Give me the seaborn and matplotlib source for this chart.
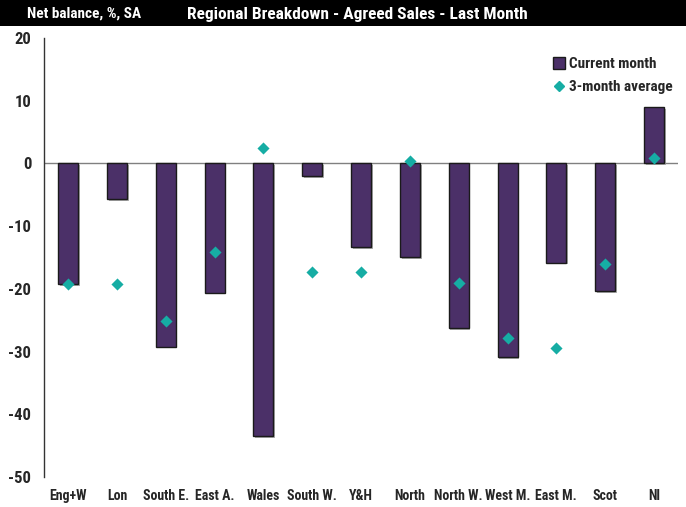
import matplotlib
matplotlib.use("Agg")
import matplotlib.pyplot as plt
import matplotlib.patheffects as pe
from matplotlib.lines import Line2D
from matplotlib.patches import Rectangle
import seaborn as sns
import pandas as pd

regions = ["Eng+W", "Lon", "South E.", "East A.", "Wales", "South W.", "Y&H",
           "North", "North W.", "West M.", "East M.", "Scot", "NI"]
current_month = [-19.3, -5.7, -29.2, -20.6, -43.5, -2.0, -13.4,
                 -14.9, -26.3, -30.9, -15.8, -20.4, 9.0]
three_month_avg = [-19.2, -19.2, -25.2, -14.2, 2.5, -17.3, -17.3,
                   0.4, -19.0, -27.8, -29.5, -16.0, 0.85]
y_ticks = [20, 10, 0, -10, -20, -30, -40, -50]

df = pd.DataFrame({"region": regions, "current": current_month, "avg": three_month_avg})

sns.set_style("white")
FONT = ["Roboto Condensed", "PT Sans Narrow", "Liberation Sans", "DejaVu Sans"]
plt.rcParams["font.family"] = FONT

purple = "#4B3068"
teal = "#16ADA4"

fig = plt.figure(figsize=(6.86, 5.07), dpi=100)
ax = fig.add_axes([0.0636, 0.0592, 0.9254, 0.8658])

sns.barplot(data=df, x="region", y="current", color=purple, width=0.41,
            edgecolor="#1a1a1a", linewidth=1.0, saturation=1, ax=ax, zorder=2)
for p in ax.patches:
    p.set_path_effects([pe.SimplePatchShadow(offset=(1.2, -1.2), shadow_rgbFace="#9a9a9a", alpha=0.8),
                        pe.Normal()])
sns.scatterplot(data=df, x="region", y="avg", marker="D", s=38, color=teal,
                edgecolor=teal, linewidth=0, ax=ax, zorder=3)

ax.axhline(0, color="#808080", linewidth=1.0, zorder=1)
ax.set_xlim(-0.5, len(regions) - 0.5)
ax.set_ylim(-50, 20)
ax.set_yticks(y_ticks)
ax.set_yticklabels([str(v) for v in y_ticks], fontsize=12, fontweight="bold")
ax.set_xticks(range(len(regions)))
ax.set_xticklabels(regions, fontsize=10, fontweight="bold")
ax.tick_params(axis="x", length=0, pad=9)
ax.tick_params(axis="y", length=0, pad=9)
ax.set_xlabel("")
ax.set_ylabel("")
for s in ["top", "right", "bottom"]:
    ax.spines[s].set_visible(False)
ax.spines["left"].set_color("#333333")
ax.spines["left"].set_linewidth(1.0)

handles = [Line2D([], [], marker="s", linestyle="", markersize=8, markerfacecolor=purple,
                  markeredgecolor="#1a1a1a", label="Current month"),
           Line2D([], [], marker="D", linestyle="", markersize=5.5, markerfacecolor=teal,
                  markeredgecolor=teal, label="3-month average")]
ax.legend(handles=handles, loc="upper right", bbox_to_anchor=(1.006, 0.978), frameon=False,
          prop={"family": FONT, "weight": "bold", "size": 11}, handletextpad=0.15,
          handlelength=1.0, labelspacing=0.6, borderaxespad=0.2)

fig.patches.append(Rectangle((0, 1 - 26 / 507), 1, 26 / 507, transform=fig.transFigure,
                             facecolor="black", edgecolor="none", zorder=0))
fig.text(27 / 686, 1 - 14 / 507, "Net balance, %, SA", color="white", fontsize=11,
         fontweight="bold", va="center", ha="left")
fig.text(187 / 686, 1 - 14 / 507, "Regional Breakdown - Agreed Sales - Last Month", color="white",
         fontsize=12.5, fontweight="bold", va="center", ha="left")

fig.savefig("out.png", dpi=100)
